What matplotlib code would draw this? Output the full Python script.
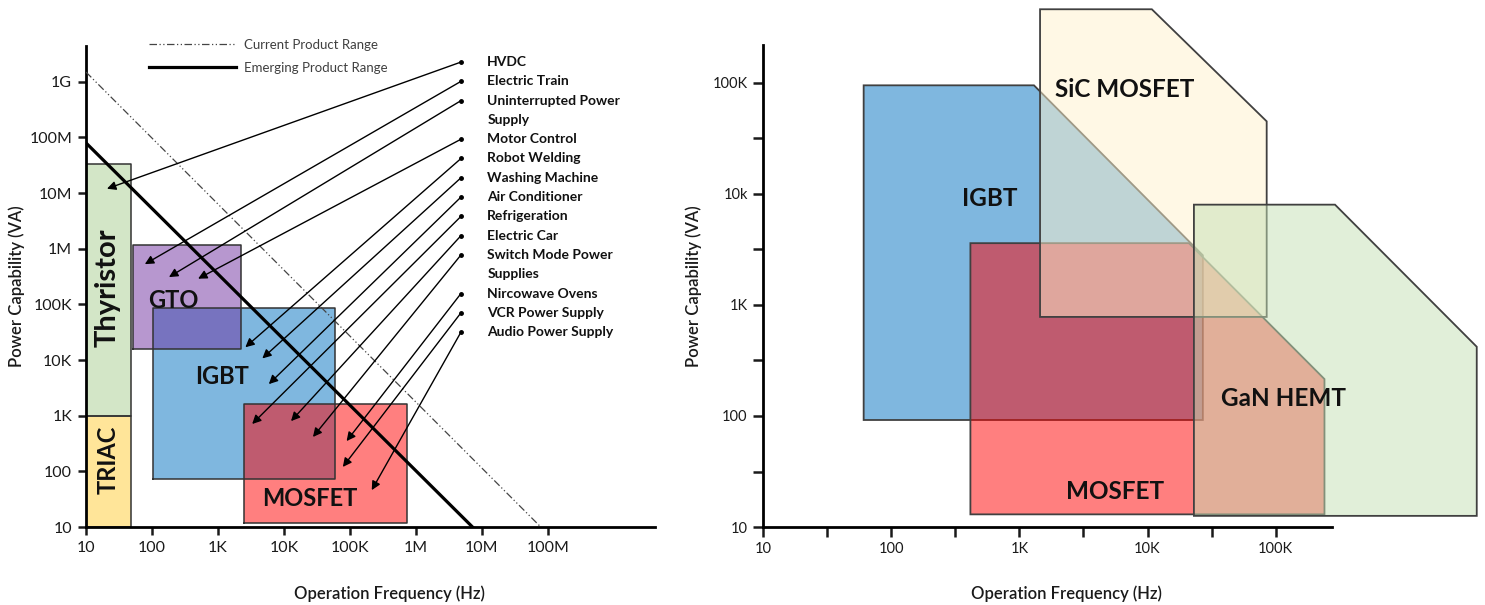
import matplotlib.pyplot as plt
import numpy as np
from matplotlib.patches import Polygon
from matplotlib.colors import to_rgb

plt.rcParams['font.family'] = ['Lato', 'DejaVu Sans']

# ---------------- left chart: conventional devices ----------------
x_ticks_l = [1e1, 1e2, 1e3, 1e4, 1e5, 1e6, 1e7, 1e8]
x_labels_l = ['10', '100', '1K', '10K', '100K', '1M', '10M', '100M']
y_ticks_l = [1e1, 1e2, 1e3, 1e4, 1e5, 1e6, 1e7, 1e8, 1e9]
y_labels_l = ['10', '100', '1K', '10K', '100K', '1M', '10M', '100M', '1G']

# device ranges: frequency (Hz) and power (VA) limits
dev_names = ['Thyristor', 'TRIAC', 'IGBT', 'GTO', 'MOSFET']
dev_f_lo = [10, 10, 105, 51, 2500]
dev_f_hi = [48, 48, 60e3, 2200, 720e3]
dev_p_lo = [1e3, 10, 73, 1.6e4, 12]
dev_p_hi = [3.3e7, 1e3, 8.5e4, 1.15e6, 1.6e3]
dev_colors = ['#70AD47', '#FFC000', '#0070C0', '#7030A0', '#FF0000']
dev_alpha = [0.3, 0.4, 0.5, 0.5, 0.5]

# where the device names sit
dev_lab_f = [21, 22, 1150, 210, 25000]
dev_lab_p = [2e5, 160, 5e3, 1.2e5, 32]
dev_lab_rot = [90, 90, 0, 0, 0]
dev_lab_size = [21, 17, 17, 17, 17]

# product range limit lines
current_f = [10, 7.8e7]
current_p = [1.5e9, 10]
emerging_f = [10, 7.2e6]
emerging_p = [8e7, 10]

# applications and the point each arrow points at
apps = ['HVDC', 'Electric Train', 'Uninterrupted Power\nSupply', 'Motor Control',
        'Robot Welding', 'Washing Machine', 'Air Conditioner', 'Refrigeration',
        'Electric Car', 'Switch Mode Power\nSupplies', 'Nircowave Ovens',
        'VCR Power Supply', 'Audio Power Supply']
app_f = [20.8, 78, 181, 500, 2600, 4700, 5900, 3300, 12800, 27500, 89000, 78000, 214000]
app_p = [1.2e7, 5.3e5, 3.1e5, 2.9e5, 1.7e4, 1.07e4, 3700, 710, 800, 415, 350, 120, 46]

# ---------------- right chart: wide bandgap devices ----------------
x_ticks_r = [1e1, 1e2, 1e3, 1e4, 1e5]
x_labels_r = ['10', '100', '1K', '10K', '100K']
y_ticks_r = [1e1, 1e2, 1e3, 1e4, 1e5]
y_labels_r = ['10', '100', '1K', '10k', '100K']
minor_r = [31.6, 316, 3160, 31600]

igbt_f = [61, 61, 1300, 27000, 27000]
igbt_p = [92, 9.5e4, 9.5e4, 2800, 92]
mos_f = [415, 415, 21000, 2.4e5, 2.4e5]
mos_p = [13, 3600, 3600, 215, 13]
sic_f = [1450, 1450, 10800, 85000, 85000]
sic_p = [780, 4.6e5, 4.6e5, 4.5e4, 780]
gan_f = [23000, 23000, 2.9e5, 3.7e6, 3.7e6]
gan_p = [12.6, 8000, 8000, 420, 12.6]

wbg_names = ['IGBT', 'MOSFET', 'SiC MOSFET', 'GaN HEMT']
wbg_f = [igbt_f, mos_f, sic_f, gan_f]
wbg_p = [igbt_p, mos_p, sic_p, gan_p]
wbg_colors = ['#0070C0', '#FF0000', '#FFF2CC', '#C5E0B4']
wbg_lab_f = [590, 5600, 6600, 1.15e5]
wbg_lab_p = [9000, 21, 8.8e4, 145]

fig = plt.figure(figsize=(14.85, 6.05), dpi=100)
axl = fig.add_axes([0.0579, 0.1289, 0.3832, 0.795])
axr = fig.add_axes([0.5138, 0.1289, 0.3832, 0.797])


def style_axes(ax, xt, xl, yt, yl, xmax, ymax, size):
    ax.set_xscale('log')
    ax.set_yscale('log')
    ax.set_xlim(10, xmax)
    ax.set_ylim(10, ymax)
    ax.set_xticks(xt)
    ax.set_xticklabels(xl)
    ax.set_yticks(yt)
    ax.set_yticklabels(yl)
    ax.minorticks_off()
    for s in ['top', 'right']:
        ax.spines[s].set_visible(False)
    for s in ['left', 'bottom']:
        ax.spines[s].set_linewidth(2)
    ax.tick_params(which='both', direction='out', length=6, width=1.8,
                   labelsize=size, colors='#1a1a1a', pad=4)
    ax.set_xlabel('Operation Frequency (Hz)', fontsize=12, color='#1a1a1a',
                  fontweight='semibold')
    ax.set_ylabel('Power Capability (VA)', fontsize=12, color='#1a1a1a', va='center',
                  fontweight='semibold')
    ax.xaxis.set_label_coords(0.534, -0.122)
    ax.yaxis.set_label_coords(-0.122, 0.5)


style_axes(axl, x_ticks_l, x_labels_l, y_ticks_l, y_labels_l, 4.2e9, 4.4e9, 11.5)
style_axes(axr, x_ticks_r, x_labels_r, y_ticks_r, y_labels_r, 2.75e5, 2.2e5, 10.5)

# left: device boxes
for i in range(len(dev_names)):
    axl.fill_between([dev_f_lo[i], dev_f_hi[i]], dev_p_lo[i], dev_p_hi[i],
                     facecolor=dev_colors[i], alpha=dev_alpha[i], lw=0, zorder=2)
    axl.plot([dev_f_lo[i], dev_f_hi[i], dev_f_hi[i], dev_f_lo[i], dev_f_lo[i]],
             [dev_p_lo[i], dev_p_lo[i], dev_p_hi[i], dev_p_hi[i], dev_p_lo[i]],
             color='#333333', lw=1.1, zorder=2.5)
    axl.text(dev_lab_f[i], dev_lab_p[i], dev_names[i], rotation=dev_lab_rot[i],
             fontsize=dev_lab_size[i], fontweight='bold', ha='center', va='center',
             color='#111111', zorder=5)

axl.plot(current_f, current_p, color='#444444', lw=0.9, dashes=(6, 2, 1, 2, 1, 2),
         label='Current Product Range', zorder=3)
axl.plot(emerging_f, emerging_p, color='black', lw=2.3,
         label='Emerging Product Range', zorder=3)
leg = axl.legend(loc='upper left', bbox_to_anchor=(0.09, 1.04), frameon=False,
                 fontsize=9.5, handlelength=6.6, handletextpad=0.6, labelspacing=0.85)
for t in leg.get_texts():
    t.set_color('#404040')

# application labels and arrows
row = 0
for i, name in enumerate(apps):
    y_row = 0.9667 - 0.0401 * row
    axl.plot(0.659, y_row, 'o', ms=2.5, color='black', transform=axl.transAxes,
             clip_on=False, zorder=6)
    axl.annotate('', xy=(app_f[i], app_p[i]), xycoords='data',
                 xytext=(0.659, y_row), textcoords='axes fraction',
                 arrowprops=dict(arrowstyle='-|>', color='black', lw=1.0,
                                 mutation_scale=13, shrinkA=0, shrinkB=0),
                 zorder=6)
    for line in name.split('\n'):
        axl.text(0.705, 0.9667 - 0.0401 * row, line, transform=axl.transAxes,
                 fontsize=10, fontweight='bold', va='center', ha='left', color='#111111')
        row += 1

# right: overlapping device regions
for i in range(len(wbg_names)):
    poly = Polygon(np.column_stack([wbg_f[i], wbg_p[i]]), closed=True,
                   facecolor=(*to_rgb(wbg_colors[i]), 0.5), edgecolor='#404040',
                   lw=1.3, clip_on=False, zorder=2 + i)
    axr.add_patch(poly)
for i in range(len(wbg_names)):
    axr.text(wbg_lab_f[i], wbg_lab_p[i], wbg_names[i], fontsize=17.5, fontweight='bold',
             ha='center', va='center', color='#111111', zorder=10)

axr.set_xticks(minor_r, minor=True)
axr.set_yticks(minor_r, minor=True)
axr.tick_params(which='both', length=7, width=1.8)

fig.savefig('out.png', dpi=100)
